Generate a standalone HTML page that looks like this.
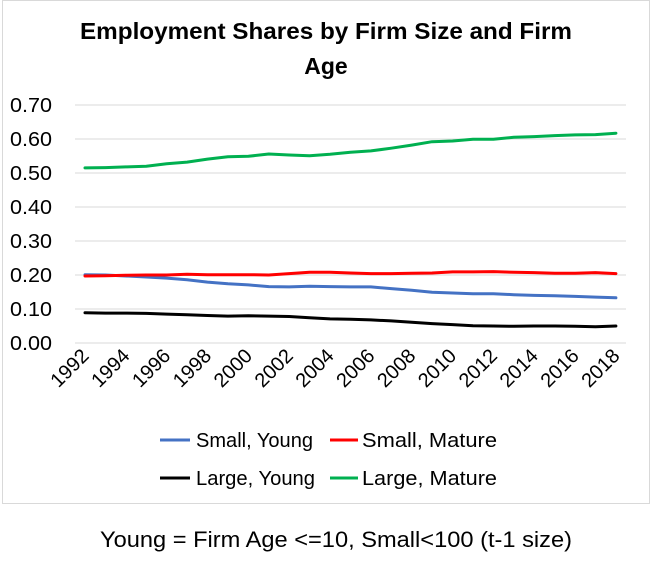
<!DOCTYPE html>
<html><head><style>
body{margin:0;background:#fff;width:653px;height:571px;overflow:hidden}
svg{font-family:"Liberation Sans",Calibri,sans-serif}
</style></head><body>
<svg id="s" width="653" height="571" xmlns="http://www.w3.org/2000/svg">
<rect x="2.5" y="0.5" width="647" height="503" fill="#fff" stroke="#d9d9d9"/>
<text x="80" y="39" font-size="23" font-weight="bold" textLength="492" lengthAdjust="spacingAndGlyphs">Employment Shares by Firm Size and Firm</text>
<text x="326" y="74" text-anchor="middle" font-size="23" font-weight="bold">Age</text>
<g id="g"></g>
<line x1="160" y1="440" x2="190" y2="440" stroke="#4472c4" stroke-width="3"/>
<text x="196" y="447" font-size="20" textLength="117" lengthAdjust="spacingAndGlyphs">Small, Young</text>
<line x1="330" y1="440" x2="358" y2="440" stroke="#ff0000" stroke-width="3"/>
<text x="362" y="447" font-size="20" textLength="135" lengthAdjust="spacingAndGlyphs">Small, Mature</text>
<line x1="160" y1="478" x2="190" y2="478" stroke="#000" stroke-width="3"/>
<text x="196" y="485" font-size="20" textLength="119" lengthAdjust="spacingAndGlyphs">Large, Young</text>
<line x1="330" y1="478" x2="358" y2="478" stroke="#00b050" stroke-width="3"/>
<text x="362" y="485" font-size="20" textLength="135" lengthAdjust="spacingAndGlyphs">Large, Mature</text>
<text x="100" y="547" font-size="22" textLength="472" lengthAdjust="spacingAndGlyphs">Young = Firm Age &lt;=10, Small&lt;100 (t-1 size)</text>
</svg>
<script>
var g=document.getElementById('g'),h='';
function Y(v){return 343-v*340;}
function X(i){return 85+i*20.42;}
for(var k=0;k<=7;k++){var y=Y(k/10);h+='<line x1="75" x2="626" y1="'+y+'" y2="'+y+'" stroke="#d9d9d9"/>';
h+='<text x="10" y="'+(y+7)+'" font-size="20" textLength="42" lengthAdjust="spacingAndGlyphs">'+(k/10).toFixed(2)+'</text>';}
for(var i=0;i<27;i+=2){var x=X(i)+5,yy=357;h+='<text x="'+x+'" y="'+yy+'" text-anchor="end" font-size="20" transform="rotate(-45 '+x+' '+yy+')">'+(1992+i)+'</text>';}
var D=[["#00b050",[.515,.516,.518,.520,.527,.532,.541,.548,.549,.556,.553,.551,.555,.561,.565,.573,.582,.592,.594,.599,.599,.605,.607,.610,.612,.613,.617]],
["#4472c4",[.201,.2,.197,.194,.191,.186,.179,.174,.171,.166,.165,.167,.166,.165,.165,.16,.155,.149,.147,.145,.145,.142,.14,.139,.137,.135,.133]],
["#ff0000",[.197,.198,.199,.2,.2,.202,.201,.201,.201,.2,.204,.208,.208,.206,.204,.204,.205,.206,.209,.209,.21,.208,.207,.205,.205,.207,.204]],
["#000",[.089,.088,.088,.087,.085,.083,.081,.079,.08,.079,.078,.074,.071,.07,.068,.065,.061,.057,.054,.051,.05,.049,.05,.05,.049,.048,.05]]];
D.forEach(function(s){var p=s[1].map(function(v,i){return X(i).toFixed(1)+','+Y(v).toFixed(1)}).join(' ');
h+='<polyline points="'+p+'" fill="none" stroke="'+s[0]+'" stroke-width="3" stroke-linejoin="round" stroke-linecap="round"/>';});
g.innerHTML=h;
</script>
</body></html>
